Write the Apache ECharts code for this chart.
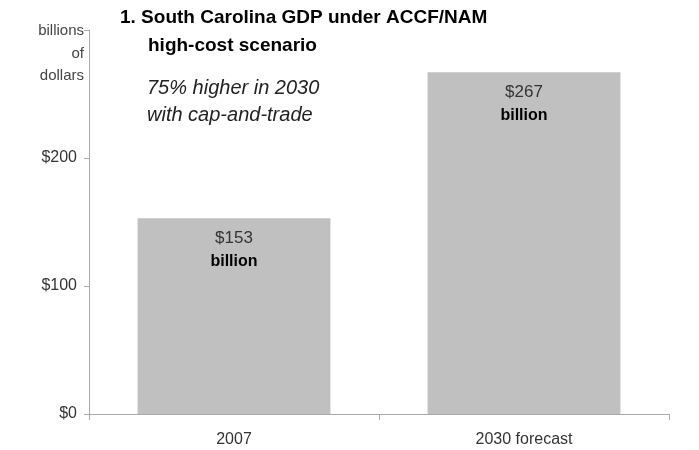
<!DOCTYPE html>
<html><head><meta charset="utf-8">
<script src="https://cdn.jsdelivr.net/npm/echarts@6/dist/echarts.min.js"></script>
<style>html,body{margin:0;padding:0;background:#fff}#c{width:699px;height:450px}</style>
</head><body><div id="c"></div>
<script>
const categories = ['2007', '2030 forecast'];
const gdpValues = [153, 267];
const valueLabels = ['$153', '$267'];
const yTickLabels = {0: '$0', 100: '$100', 200: '$200'};

const chart = echarts.init(document.getElementById('c'));
const font = '"Liberation Sans", Arial, sans-serif';
chart.setOption({
  animation: false,
  grid: {left: 89, right: 30, top: 30, bottom: 36},
  title: [
    {text: '1. South Carolina GDP under ACCF/NAM', left: 115, top: 3,
     textStyle: {fontFamily: font, fontSize: 19, fontWeight: 'bold', color: '#000'}},
    {text: 'high-cost scenario', left: 143, top: 31,
     textStyle: {fontFamily: font, fontSize: 19, fontWeight: 'bold', color: '#000'}},
    {text: '75% higher in 2030\nwith cap-and-trade', left: 142, top: 70,
     textStyle: {fontFamily: font, fontSize: 20, fontStyle: 'italic', fontWeight: 'normal', color: '#222', lineHeight: 27}}
  ],
  graphic: [{
    type: 'text', x: 84, y: 20,
    style: {text: 'billions\nof\ndollars', align: 'right', verticalAlign: 'top',
      font: '15px "Liberation Sans", Arial, sans-serif', fill: '#444', lineHeight: 22.5}
  }],
  xAxis: {
    type: 'category', data: categories,
    axisLine: {lineStyle: {color: '#aaa'}},
    axisTick: {show: true, length: 6, lineStyle: {color: '#aaa'}},
    axisLabel: {fontFamily: font, fontSize: 16, color: '#333', margin: 18}
  },
  yAxis: {
    type: 'value', min: 0, max: 300, interval: 100,
    splitLine: {show: false},
    axisLine: {show: true, lineStyle: {color: '#aaa'}},
    axisTick: {show: true, length: 5, lineStyle: {color: '#aaa'}},
    axisLabel: {fontFamily: font, fontSize: 16, color: '#333', margin: 12,
      formatter: v => yTickLabels[v] !== undefined ? yTickLabels[v] : ''}
  },
  series: [{
    type: 'bar', data: gdpValues, barWidth: '66.5%', barCategoryGap: '33.5%',
    itemStyle: {color: '#c0c0c0'},
    label: {
      show: true, position: 'insideTop', distance: 9,
      formatter: p => '{a|' + valueLabels[p.dataIndex] + '}\n{b|billion}',
      rich: {
        a: {fontFamily: font, fontSize: 17, color: '#333', lineHeight: 23},
        b: {fontFamily: font, fontSize: 16, fontWeight: 'bold', color: '#000', lineHeight: 23}
      }
    }
  }]
});
</script></body></html>
